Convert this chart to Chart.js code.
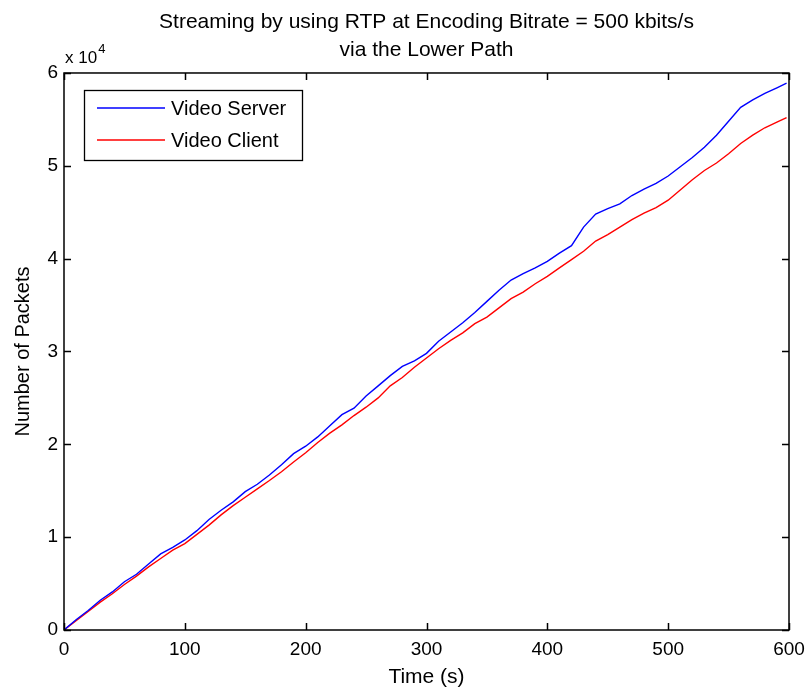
<!DOCTYPE html>
<html>
<head>
<meta charset="utf-8">
<script src="https://cdn.jsdelivr.net/npm/chart.js@4.4.4/dist/chart.umd.min.js"></script>
<style>
  html, body { margin: 0; padding: 0; background: #fff; }
  canvas { display: block; }
</style>
</head>
<body>
<canvas id="chart" width="806" height="690"></canvas>
<script>
// time in seconds, packet counts at each sample
const timeSec = [0, 10, 20, 30, 40, 50, 60, 70, 80, 90,
  100, 110, 120, 130, 140, 150, 160, 170, 180, 190,
  200, 210, 220, 230, 240, 250, 260, 270, 280, 290,
  300, 310, 320, 330, 340, 350, 360, 370, 380, 390,
  400, 410, 420, 430, 440, 450, 460, 470, 480, 490,
  500, 510, 520, 530, 540, 550, 560, 570, 580, 590, 598];

const serverPackets = [0, 1100, 2100, 3200, 4100, 5200, 6000, 7100, 8200, 8900,
  9700, 10700, 11900, 12900, 13800, 14900, 15700, 16700, 17800, 19000,
  19800, 20800, 22000, 23200, 23900, 25200, 26300, 27400, 28400, 29000,
  29800, 31100, 32100, 33100, 34200, 35400, 36600, 37700, 38400, 39000,
  39700, 40600, 41400, 43400, 44800, 45400, 45900, 46800, 47500, 48100,
  48900, 49900, 50900, 52000, 53300, 54800, 56300, 57100, 57800, 58400, 58900];

const clientPackets = [0, 1000, 2000, 3000, 3900, 4900, 5800, 6800, 7700, 8600,
  9300, 10300, 11300, 12400, 13400, 14300, 15200, 16100, 17050, 18100,
  19100, 20200, 21200, 22100, 23100, 24000, 25000, 26300, 27200, 28300,
  29300, 30300, 31200, 32000, 33000, 33700, 34700, 35700, 36400, 37300,
  38100, 39000, 39900, 40800, 41900, 42600, 43400, 44200, 44900, 45500,
  46300, 47400, 48500, 49500, 50300, 51300, 52400, 53300, 54100, 54700, 55200];

const xTicks = [0, 100, 200, 300, 400, 500, 600];
const yTicks = [0, 10000, 20000, 30000, 40000, 50000, 60000];

const toPoints = (ys) => timeSec.map((t, i) => ({ x: t, y: ys[i] }));

Chart.defaults.font.family = '"Liberation Sans", Arial, Helvetica, sans-serif';
Chart.defaults.color = '#000';

// box frame with inward ticks on all sides, the x10^4 multiplier and the legend
const matlabAxes = {
  id: 'matlabAxes',
  afterDatasetsDraw(chart) {
    const { ctx, chartArea: a, scales: { x, y } } = chart;
    const tick = 7;
    ctx.save();
    ctx.strokeStyle = '#000';
    ctx.lineWidth = 1.5;
    ctx.strokeRect(a.left, a.top, a.width, a.height);
    ctx.beginPath();
    for (const v of xTicks) {
      const px = Math.round(x.getPixelForValue(v)) + 0.5;
      ctx.moveTo(px, a.bottom); ctx.lineTo(px, a.bottom - tick);
      ctx.moveTo(px, a.top); ctx.lineTo(px, a.top + tick);
    }
    for (const v of yTicks) {
      const py = Math.round(y.getPixelForValue(v)) + 0.5;
      ctx.moveTo(a.left, py); ctx.lineTo(a.left + tick, py);
      ctx.moveTo(a.right, py); ctx.lineTo(a.right - tick, py);
    }
    ctx.stroke();

    // exponent label above the y axis
    ctx.fillStyle = '#000';
    ctx.textBaseline = 'alphabetic';
    ctx.textAlign = 'left';
    ctx.font = '17px "Liberation Sans", Arial, sans-serif';
    ctx.fillText('x 10', a.left + 1, a.top - 10);
    const w = ctx.measureText('x 10').width;
    ctx.font = '13px "Liberation Sans", Arial, sans-serif';
    ctx.fillText('4', a.left + 2 + w, a.top - 20);

    // legend
    const lx = 84, ly = 90, lw = 218, lh = 70;
    ctx.fillStyle = '#fff';
    ctx.fillRect(lx, ly, lw, lh);
    ctx.lineWidth = 1.3;
    ctx.strokeStyle = '#000';
    ctx.strokeRect(lx + 0.5, ly + 0.5, lw, lh);
    ctx.font = '20px "Liberation Sans", Arial, sans-serif';
    ctx.textBaseline = 'middle';
    chart.data.datasets.forEach((ds, i) => {
      const rowY = ly + 18 + i * 32;
      ctx.strokeStyle = ds.borderColor;
      ctx.lineWidth = 1.3;
      ctx.beginPath();
      ctx.moveTo(lx + 13, rowY);
      ctx.lineTo(lx + 81, rowY);
      ctx.stroke();
      ctx.fillStyle = '#000';
      ctx.fillText(ds.label, lx + 87, rowY + 1);
    });
    ctx.restore();
  }
};

new Chart(document.getElementById('chart'), {
  type: 'line',
  data: {
    datasets: [
      {
        label: 'Video Server',
        data: toPoints(serverPackets),
        borderColor: '#0000ff',
        borderWidth: 1.4,
        pointRadius: 0,
        tension: 0
      },
      {
        label: 'Video Client',
        data: toPoints(clientPackets),
        borderColor: '#ff0000',
        borderWidth: 1.4,
        pointRadius: 0,
        tension: 0
      }
    ]
  },
  options: {
    responsive: false,
    animation: false,
    layout: { padding: { left: 0, right: 0, top: 0, bottom: 0 } },
    plugins: {
      legend: { display: false },
      tooltip: { enabled: false },
      title: {
        display: true,
        fullSize: false,
        text: ['Streaming by using RTP at Encoding Bitrate = 500 kbits/s', 'via the Lower Path'],
        font: { size: 21, weight: 'normal', lineHeight: 1.333 },
        color: '#000',
        padding: { top: 8, bottom: 9 }
      }
    },
    scales: {
      x: {
        type: 'linear',
        min: 0,
        max: 600,
        afterFit: (s) => { s.height = 60; s.paddingRight = 17; s.paddingLeft = 0; },
        afterBuildTicks: (s) => { s.ticks = xTicks.map(v => ({ value: v })); },
        ticks: { font: { size: 19 }, padding: 8, maxRotation: 0 },
        grid: { display: false, drawTicks: false },
        border: { display: false },
        title: { display: true, text: 'Time (s)', font: { size: 21 }, padding: { top: 0, bottom: 0 } }
      },
      y: {
        type: 'linear',
        min: 0,
        max: 60000,
        afterFit: (s) => { s.width = 64; },
        afterBuildTicks: (s) => { s.ticks = yTicks.map(v => ({ value: v })); },
        ticks: { font: { size: 19 }, padding: 6, callback: (v) => v / 10000 },
        grid: { display: false, drawTicks: false },
        border: { display: false },
        title: { display: true, text: 'Number of Packets', font: { size: 20 }, padding: { top: 11, bottom: 0 } }
      }
    }
  },
  plugins: [matlabAxes]
});
</script>
</body>
</html>
